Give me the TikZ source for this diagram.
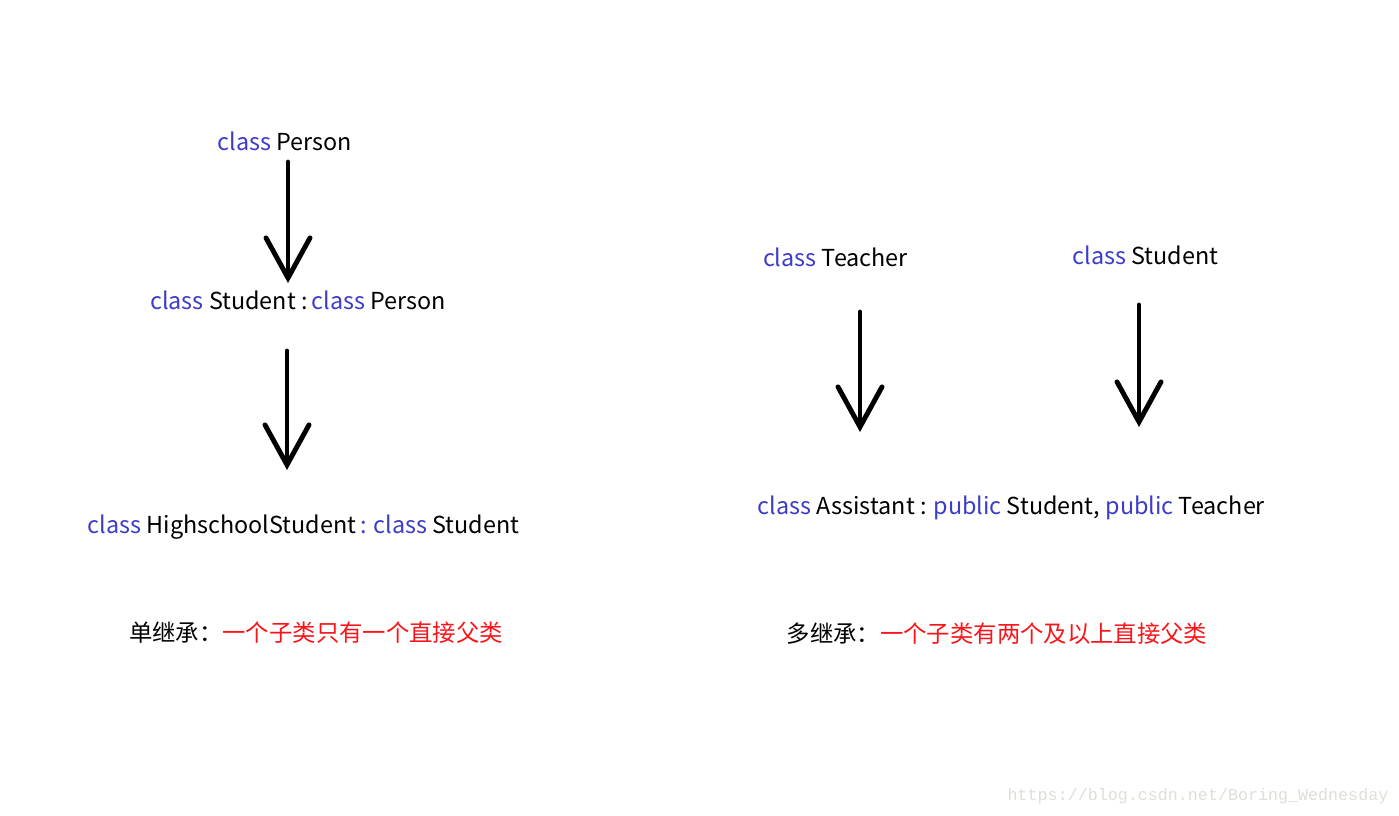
\documentclass[tikz,border=0pt]{standalone}
\usepackage{fontspec}
\setmainfont{Noto Sans CJK SC}
\newfontfamily\markfont{Liberation Mono}
\usetikzlibrary{arrows.meta}
\definecolor{kwblue}{RGB}{60,60,200}
\definecolor{notered}{RGB}{250,20,25}
\definecolor{markgray}{RGB}{222,222,216}
\newcommand{\kw}[1]{\textcolor{kwblue}{#1}}

\begin{document}
\begin{tikzpicture}[font=\fontsize{13.3}{16}\selectfont,
  inh/.style={line width=2.8pt, line cap=round, line join=round,
    -{Straight Barb[length=0.8cm, width=0.88cm, line cap=round]}}]
\useasboundingbox (0,0) rectangle (27.98,-16.32);
% single inheritance
\node (person) at (5.70,-2.82) {\kw{class} Person};
\node (student) at (5.96,-6.00) {\kw{class} Student :\,\kw{class} Person};
\node (high) at (6.07,-10.54) {\kw{class} HighschoolStudent\kw{\,: class} Student};
\node (single) at (6.32,-12.66) {单继承：\textcolor{notered}{一个子类只有一个直接父类}};
\coordinate (a1) at (5.76,-3.24);
\coordinate (b1) at (5.76,-5.66);
\coordinate (a2) at (5.74,-7.02);
\coordinate (b2) at (5.74,-9.40);
\draw[inh] (a1) -- (b1);
\draw[inh] (a2) -- (b2);
% multiple inheritance
\node (teacher) at (16.71,-5.14) {\kw{class} Teacher};
\node (studentr) at (22.91,-5.10) {\kw{class} Student};
\node (assist) at (20.23,-10.16) {\kw{class} Assistant : \kw{public} Student, \kw{public} Teacher};
\node (multi) at (19.94,-12.68) {多继承：\textcolor{notered}{一个子类有两个及以上直接父类}};
\coordinate (a3) at (17.20,-6.24);
\coordinate (b3) at (17.20,-8.64);
\coordinate (a4) at (22.78,-6.10);
\coordinate (b4) at (22.78,-8.54);
\draw[inh] (a3) -- (b3);
\draw[inh] (a4) -- (b4);
\node[markgray, font=\markfont\fontsize{9.5}{11}\selectfont] (mark) at (23.96,-15.92) {https://blog.csdn.net/Boring\_Wednesday};
\end{tikzpicture}
\end{document}
